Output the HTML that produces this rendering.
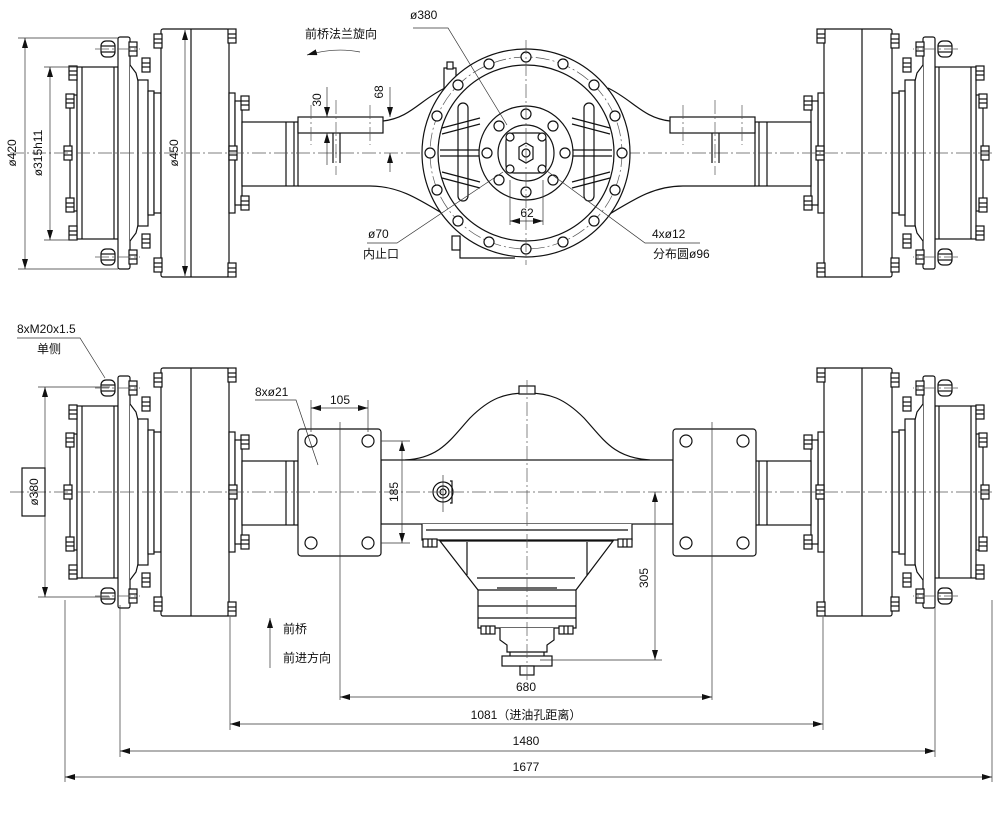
<!DOCTYPE html>
<html><head><meta charset="utf-8"><style>
html,body{margin:0;padding:0;background:#fff}
svg{display:block}
text{font-family:"Liberation Sans","Noto Sans CJK SC",sans-serif;font-size:12px;fill:#111}
.l{fill:none;stroke:#111;stroke-width:1.2}
.f{fill:#fff;stroke:#111;stroke-width:1.2}
.c{fill:none;stroke:#555;stroke-width:0.7;stroke-dasharray:14 3 2 3}
.d{fill:none;stroke:#333;stroke-width:0.7}
</style></head><body>
<svg width="1000" height="818" viewBox="0 0 1000 818" xmlns="http://www.w3.org/2000/svg">
<defs>
<marker id="a" viewBox="0 0 10 6" refX="10" refY="3" markerWidth="10" markerHeight="6" orient="auto-start-reverse" markerUnits="userSpaceOnUse"><path d="M0,0 L10,3 L0,6 z" fill="#111"/></marker>
<g id="nut"><rect x="-7" y="-8" width="14" height="16" rx="5" class="f"/><line x1="-7" y1="-3" x2="7" y2="-3" class="l"/><line x1="-7" y1="3" x2="7" y2="3" class="l"/></g>
<g id="sb"><rect x="-4" y="-7" width="8" height="14" class="f"/><line x1="-4" y1="-2" x2="4" y2="-2" class="l"/><line x1="-4" y1="2" x2="4" y2="2" class="l"/></g>
<g id="wheel">
 <rect x="70" y="-58" width="7" height="116" class="f"/>
 <rect x="77" y="-86" width="41" height="172" class="f"/>
 <line x1="82" y1="-86" x2="82" y2="86" class="l"/>
 <line x1="114" y1="-86" x2="114" y2="86" class="l"/>
 <rect x="118" y="-116" width="12" height="232" rx="2" class="f"/>
 <path d="M130,-88 L136,-80 L138,-72 L138,72 L136,80 L130,88" class="f"/>
 <rect x="138" y="-73" width="10" height="146" class="f"/>
 <rect x="148" y="-62" width="6" height="124" class="f"/>
 <rect x="154" y="-60" width="7" height="120" class="f"/>
 <rect x="161" y="-124" width="68" height="248" rx="2" class="f"/>
 <line x1="191" y1="-124" x2="191" y2="124" class="l"/>
 <rect x="229" y="-60" width="6" height="120" class="f"/>
 <rect x="235" y="-52" width="7" height="104" class="f"/>
 <use href="#nut" x="108" y="-104"/><use href="#nut" x="108" y="104"/>
 <use href="#sb" x="133" y="-104"/><use href="#sb" x="133" y="104"/>
 <use href="#sb" x="158" y="-112"/><use href="#sb" x="158" y="112"/>
 <use href="#sb" x="232" y="-117"/><use href="#sb" x="232" y="117"/>
 <use href="#sb" x="146" y="-88"/><use href="#sb" x="146" y="88"/>
 <use href="#sb" x="73" y="-80"/><use href="#sb" x="73" y="80"/>
 <use href="#sb" x="70" y="-52"/><use href="#sb" x="70" y="52"/><use href="#sb" x="68" y="0"/>
 <use href="#sb" x="245" y="-50"/><use href="#sb" x="245" y="50"/><use href="#sb" x="233" y="0"/>
 <line x1="95" y1="-104" x2="140" y2="-104" class="c"/><line x1="95" y1="104" x2="140" y2="104" class="c"/>
 <rect x="242" y="-31" width="56" height="64" class="f"/>
 <line x1="286" y1="-31" x2="286" y2="33" class="l"/><line x1="294" y1="-31" x2="294" y2="33" class="l"/>
</g>
</defs>

<g transform="translate(0,153)"><use href="#wheel"/></g>
<g transform="translate(1053,153) scale(-1,1)"><use href="#wheel"/></g>
<line x1="10" y1="153" x2="995" y2="153" class="c"/>

<path d="M383,121 C410,118 420,100 445,88" class="l"/>
<path d="M298,186 L370,186 C400,186 420,200 450,218" class="l"/>
<path d="M670,121 C643,118 633,100 608,88" class="l"/>
<path d="M755,186 L683,186 C653,186 633,200 603,218" class="l"/>
<rect x="298" y="117" width="85" height="16" class="f"/>
<rect x="670" y="117" width="85" height="16" class="f"/>
<line x1="333" y1="133" x2="333" y2="163" class="l"/><line x1="340" y1="133" x2="340" y2="163" class="l"/>
<line x1="712" y1="133" x2="712" y2="163" class="l"/><line x1="719" y1="133" x2="719" y2="163" class="l"/>
<line x1="311" y1="105" x2="311" y2="145" class="c"/><line x1="370" y1="105" x2="370" y2="145" class="c"/>
<line x1="336" y1="100" x2="336" y2="175" class="c"/>
<line x1="683" y1="105" x2="683" y2="145" class="c"/><line x1="742" y1="105" x2="742" y2="145" class="c"/>
<line x1="715" y1="100" x2="715" y2="175" class="c"/>
<line x1="327" y1="87" x2="327" y2="117" class="d" marker-end="url(#a)"/>
<line x1="327" y1="165" x2="327" y2="133" class="d" marker-end="url(#a)"/>
<text transform="translate(321,100) rotate(-90)" text-anchor="middle">30</text>
<line x1="390" y1="87" x2="390" y2="117" class="d" marker-end="url(#a)"/>
<line x1="390" y1="172" x2="390" y2="153" class="d" marker-end="url(#a)"/>
<text transform="translate(383,92) rotate(-90)" text-anchor="middle">68</text>

<path d="M460,236 L460,258 L515,258" class="l"/>
<rect x="452" y="236" width="8" height="14" class="f"/>
<rect x="444" y="68" width="12" height="20" class="f"/>
<rect x="447" y="62" width="6" height="7" class="f"/>
<circle cx="526" cy="153" r="104" class="f"/>
<circle cx="526" cy="153" r="96" class="c"/>
<circle cx="526" cy="153" r="88" class="l"/>
<g class="f">
<circle cx="526" cy="57" r="5"/><circle cx="563" cy="64" r="5"/><circle cx="594" cy="85" r="5"/><circle cx="615" cy="116" r="5"/>
<circle cx="622" cy="153" r="5"/><circle cx="615" cy="190" r="5"/><circle cx="594" cy="221" r="5"/><circle cx="563" cy="242" r="5"/>
<circle cx="526" cy="249" r="5"/><circle cx="489" cy="242" r="5"/><circle cx="458" cy="221" r="5"/><circle cx="437" cy="190" r="5"/>
<circle cx="430" cy="153" r="5"/><circle cx="437" cy="116" r="5"/><circle cx="458" cy="85" r="5"/><circle cx="489" cy="64" r="5"/>
</g>
<rect x="458" y="103" width="10" height="98" rx="5" class="l"/>
<rect x="584" y="103" width="10" height="98" rx="5" class="l"/>
<path d="M442,128 L480,118 M442,134 L480,124 M442,172 L480,182 M442,178 L480,188 M440,150 L480,150 M440,156 L480,156" class="l"/>
<path d="M610,128 L572,118 M610,134 L572,124 M610,172 L572,182 M610,178 L572,188 M612,150 L572,150 M612,156 L572,156" class="l"/>
<circle cx="526" cy="153" r="47" class="f"/>
<circle cx="526" cy="153" r="28" class="l"/>
<rect x="506" y="133" width="40" height="40" rx="8" class="l"/>
<g class="f">
<circle cx="526" cy="114" r="5"/><circle cx="553" cy="126" r="5"/><circle cx="565" cy="153" r="5"/><circle cx="553" cy="180" r="5"/>
<circle cx="526" cy="192" r="5"/><circle cx="499" cy="180" r="5"/><circle cx="487" cy="153" r="5"/><circle cx="499" cy="126" r="5"/>
<circle cx="510" cy="137" r="4"/><circle cx="542" cy="137" r="4"/><circle cx="510" cy="169" r="4"/><circle cx="542" cy="169" r="4"/>
</g>
<polygon points="519,147 526,143 533,147 533,159 526,163 519,159" class="f"/>
<circle cx="526" cy="153" r="4" class="l"/>
<line x1="526" y1="40" x2="526" y2="265" class="c"/>
<text x="410" y="19">ø380</text>
<polyline points="413,28 448,28 507,125" class="d"/>
<text x="368" y="238">ø70</text><text x="363" y="258">内止口</text>
<polyline points="367,243 397,243 503,172" class="d"/>
<text x="652" y="238">4xø12</text><text x="653" y="258">分布圆ø96</text>
<polyline points="700,243 645,243 547,171" class="d"/>
<line x1="510" y1="180" x2="510" y2="225" class="d"/><line x1="543" y1="180" x2="543" y2="225" class="d"/>
<line x1="510" y1="221" x2="543" y2="221" class="d" marker-start="url(#a)" marker-end="url(#a)"/>
<text x="527" y="217" text-anchor="middle">62</text>
<text x="305" y="38">前桥法兰旋向</text>
<path d="M360,52 Q335,47 307,55" class="d" marker-end="url(#a)"/>
<line x1="18" y1="38" x2="118" y2="38" class="d"/><line x1="18" y1="269" x2="118" y2="269" class="d"/>
<line x1="25" y1="38" x2="25" y2="269" class="d" marker-start="url(#a)" marker-end="url(#a)"/>
<text transform="translate(16,153) rotate(-90)" text-anchor="middle">ø420</text>
<line x1="44" y1="67" x2="77" y2="67" class="d"/><line x1="44" y1="240" x2="77" y2="240" class="d"/>
<line x1="50" y1="67" x2="50" y2="240" class="d" marker-start="url(#a)" marker-end="url(#a)"/>
<text transform="translate(42,153) rotate(-90)" text-anchor="middle">ø315h11</text>
<line x1="185" y1="30" x2="185" y2="276" class="d" marker-start="url(#a)" marker-end="url(#a)"/>
<text transform="translate(178,153) rotate(-90)" text-anchor="middle">ø450</text>

<g transform="translate(0,492)"><use href="#wheel"/></g>
<g transform="translate(1053,492) scale(-1,1)"><use href="#wheel"/></g>
<path d="M405,460 C440,458 450,440 470,418 C490,398 505,393 527,393 C549,393 564,398 584,418 C604,440 614,458 650,460" class="l"/>
<rect x="519" y="386" width="16" height="8" class="f"/>
<rect x="381" y="460" width="292" height="64" class="f"/>
<rect x="298" y="429" width="83" height="127" rx="3" class="f"/>
<rect x="673" y="429" width="83" height="127" rx="3" class="f"/>
<g class="l">
<circle cx="311" cy="441" r="6"/><circle cx="368" cy="441" r="6"/><circle cx="311" cy="543" r="6"/><circle cx="368" cy="543" r="6"/>
<circle cx="686" cy="441" r="6"/><circle cx="743" cy="441" r="6"/><circle cx="686" cy="543" r="6"/><circle cx="743" cy="543" r="6"/>
</g>
<line x1="340" y1="422" x2="340" y2="700" class="d"/>
<line x1="712" y1="422" x2="712" y2="700" class="d"/>
<circle cx="443" cy="492" r="10" class="l"/><circle cx="443" cy="492" r="6" class="l"/><circle cx="443" cy="492" r="3" class="l"/>
<path d="M450,481 L452,481 L452,503 L450,503" class="l"/>
<line x1="443" y1="475" x2="443" y2="512" class="d"/>
<path d="M422,524 L422,540 L632,540 L632,524" class="f"/>
<line x1="426" y1="530" x2="628" y2="530" class="l"/>
<use href="#sb" transform="translate(430,543) rotate(90)"/><use href="#sb" transform="translate(625,543) rotate(90)"/>
<path d="M440,541 L478,590 L478,628 L576,628 L576,590 L613,541 Z" class="f"/>
<line x1="467" y1="542" x2="467" y2="575" class="l"/><line x1="587" y1="542" x2="587" y2="575" class="l"/>
<line x1="478" y1="590" x2="576" y2="590" class="l"/>
<line x1="478" y1="606" x2="576" y2="606" class="l"/><line x1="478" y1="618" x2="576" y2="618" class="l"/>
<line x1="477" y1="578" x2="575" y2="578" class="l"/><line x1="497" y1="588" x2="557" y2="588" class="l"/>
<use href="#sb" transform="translate(488,630) rotate(90)"/><use href="#sb" transform="translate(566,630) rotate(90)"/>
<path d="M500,628 L500,640 L507,645 L507,652 L547,652 L547,645 L554,640 L554,628" class="f"/>
<rect x="502" y="656" width="50" height="10" class="f"/>
<path d="M510,652 L510,656 M544,652 L544,656" class="l"/>
<rect x="520" y="666" width="14" height="9" class="f"/>
<line x1="527" y1="380" x2="527" y2="680" class="c"/>
<line x1="10" y1="492" x2="995" y2="492" class="c"/>
<line x1="311" y1="400" x2="311" y2="432" class="d"/><line x1="368" y1="400" x2="368" y2="432" class="d"/>
<line x1="311" y1="408" x2="368" y2="408" class="d" marker-start="url(#a)" marker-end="url(#a)"/>
<text x="340" y="404" text-anchor="middle">105</text>
<line x1="381" y1="441" x2="410" y2="441" class="d"/><line x1="381" y1="543" x2="410" y2="543" class="d"/>
<line x1="402" y1="441" x2="402" y2="543" class="d" marker-start="url(#a)" marker-end="url(#a)"/>
<text transform="translate(398,492) rotate(-90)" text-anchor="middle">185</text>
<line x1="540" y1="660" x2="662" y2="660" class="d"/>
<line x1="655" y1="492" x2="655" y2="660" class="d" marker-start="url(#a)" marker-end="url(#a)"/>
<text transform="translate(648,578) rotate(-90)" text-anchor="middle">305</text>
<text x="255" y="396">8xø21</text>
<polyline points="255,400 296,400 318,465" class="d"/>
<text x="17" y="333">8xM20x1.5</text><text x="37" y="353">单侧</text>
<polyline points="17,338 80,338 105,378" class="d"/>
<line x1="38" y1="387" x2="110" y2="387" class="d"/><line x1="38" y1="597" x2="110" y2="597" class="d"/>
<line x1="45" y1="387" x2="45" y2="597" class="d" marker-start="url(#a)" marker-end="url(#a)"/>
<rect x="22" y="468" width="23" height="48" class="l" fill="#fff"/>
<text transform="translate(38,492) rotate(-90)" text-anchor="middle">ø380</text>
<line x1="270" y1="640" x2="270" y2="618" class="d" marker-end="url(#a)"/>
<line x1="270" y1="640" x2="270" y2="668" class="d"/>
<text x="283" y="633">前桥</text><text x="283" y="662">前进方向</text>
<line x1="230" y1="617" x2="230" y2="730" class="d"/><line x1="823" y1="617" x2="823" y2="730" class="d"/>
<line x1="120" y1="605" x2="120" y2="757" class="d"/><line x1="935" y1="605" x2="935" y2="757" class="d"/>
<line x1="65" y1="600" x2="65" y2="782" class="d"/><line x1="992" y1="600" x2="992" y2="782" class="d"/>
<line x1="340" y1="697" x2="712" y2="697" class="d" marker-start="url(#a)" marker-end="url(#a)"/>
<text x="526" y="691" text-anchor="middle">680</text>
<line x1="230" y1="724" x2="823" y2="724" class="d" marker-start="url(#a)" marker-end="url(#a)"/>
<text x="526" y="719" text-anchor="middle">1081（进油孔距离）</text>
<line x1="120" y1="751" x2="935" y2="751" class="d" marker-start="url(#a)" marker-end="url(#a)"/>
<text x="526" y="745" text-anchor="middle">1480</text>
<line x1="65" y1="777" x2="992" y2="777" class="d" marker-start="url(#a)" marker-end="url(#a)"/>
<text x="526" y="771" text-anchor="middle">1677</text>
</svg>
</body></html>
